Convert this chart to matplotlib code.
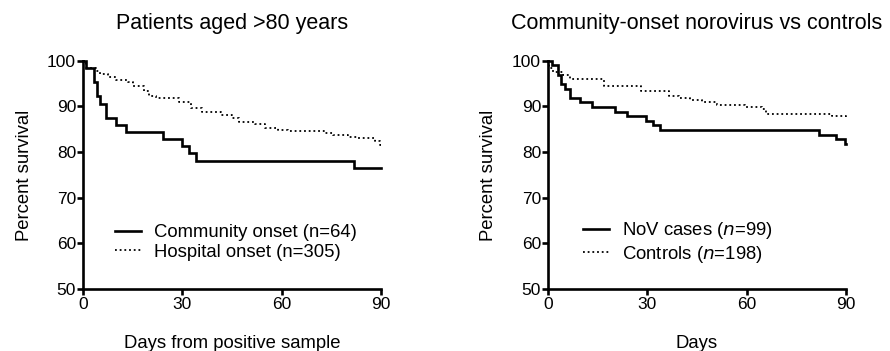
import numpy as np
import matplotlib
matplotlib.use("Agg")
import matplotlib.pyplot as plt

plt.rcParams['font.family'] = ['Liberation Sans', 'DejaVu Sans']

# --- Patients aged >80 years: Kaplan-Meier steps (day, % surviving) ---
comm_days = [0, 1.0, 3.3, 4.2, 5.1, 6.9, 10.0, 13.1, 24.0, 30.0, 32.0, 34.0, 81.8, 90]
comm_surv = [100, 98.4, 95.3, 92.2, 90.6, 87.5, 85.9, 84.4, 82.8, 81.3, 79.7, 78.1, 76.6, 76.6]

hosp_days = [0, 1.0, 4.0, 5.0, 7.5, 10.0, 13.5, 15.0, 18.3, 19.8, 22.0, 29.0, 32.5,
             36.0, 41.5, 45.0, 47.0, 52.0, 55.0, 59.0, 62.0, 73.0, 75.5, 80.0,
             83.0, 88.0, 89.5, 90]
hosp_surv = [100, 98.4, 97.8, 97.2, 96.5, 95.9, 95.4, 94.4, 93.4, 92.2, 91.8, 91.0, 89.7,
             88.9, 88.2, 87.5, 86.6, 86.1, 85.3, 84.9, 84.6, 84.2, 83.8, 83.4,
             83.0, 82.5, 81.6, 81.6]

# --- Community-onset norovirus vs controls ---
nov_days = [0, 1.1, 3.1, 3.9, 5.0, 6.8, 9.7, 13.2, 20.1, 23.8, 29.7, 31.7, 33.9, 81.9, 87.0, 89.8, 90]
nov_surv = [100, 99.0, 97.0, 95.0, 93.9, 91.9, 90.9, 89.9, 88.9, 87.9, 86.9, 85.9, 84.8, 83.8, 82.8, 81.8, 81.8]

ctrl_days = [0, 0.3, 1.5, 4.5, 6.5, 17.0, 28.0, 36.5, 39.5, 43.0, 46.5, 51.0, 59.5, 64.5, 65.8, 85.8, 90]
ctrl_surv = [100, 98.5, 97.5, 97.0, 96.0, 94.4, 93.5, 92.4, 91.9, 91.4, 90.9, 90.4, 89.9, 89.4, 88.4, 87.9, 87.6]

x_ticks = [0, 30, 60, 90]
y_ticks = [50, 60, 70, 80, 90, 100]

panels = [
    dict(title="Patients aged >80 years", xlabel="Days from positive sample",
         left=0.0933, solid=(comm_days, comm_surv, "Community onset (n=64)"),
         dotted=(hosp_days, hosp_surv, "Hospital onset (n=305)"), leg_x=0.107),
    dict(title="Community-onset norovirus vs controls", xlabel="Days",
         left=0.6157, solid=(nov_days, nov_surv, "NoV cases ($\\it{n}$=99)"),
         dotted=(ctrl_days, ctrl_surv, "Controls ($\\it{n}$=198)"), leg_x=0.118),
]

fig = plt.figure(figsize=(8.9, 3.51), dpi=100)

for p in panels:
    ax = fig.add_axes([p["left"], 0.1766, 0.335, 0.650])
    d, s, lab = p["solid"]
    ax.plot(d, s, drawstyle="steps-post", color="black", lw=1.9,
            label=lab, clip_on=False, solid_joinstyle="miter")
    d, s, lab = p["dotted"]
    ax.plot(d, s, drawstyle="steps-post", color="black", lw=1.3,
            linestyle=(0, (1, 1.6)), label=lab, clip_on=False)

    ax.set_xlim(0, 90)
    ax.set_ylim(50, 100)
    ax.set_xticks(x_ticks)
    ax.set_yticks(y_ticks)
    for side in ["top", "right"]:
        ax.spines[side].set_visible(False)
    for side in ["left", "bottom"]:
        ax.spines[side].set_linewidth(1.9)
    ax.tick_params(width=1.9, length=4, labelsize=12.5, pad=1, direction="out")
    ax.tick_params(axis="x", pad=2)

    ax.set_title(p["title"], fontsize=15.5, pad=23)
    ax.set_xlabel(p["xlabel"], fontsize=13.3, labelpad=16)
    ax.set_ylabel("Percent survival", fontsize=13.3, labelpad=10.5)

    ax.legend(loc="center left", bbox_to_anchor=(p["leg_x"], 0.204),
              frameon=False, fontsize=13.3, borderpad=0, borderaxespad=0,
              handlelength=1.4, handletextpad=0.7, labelspacing=0.15)

fig.savefig("out.png", dpi=100)
